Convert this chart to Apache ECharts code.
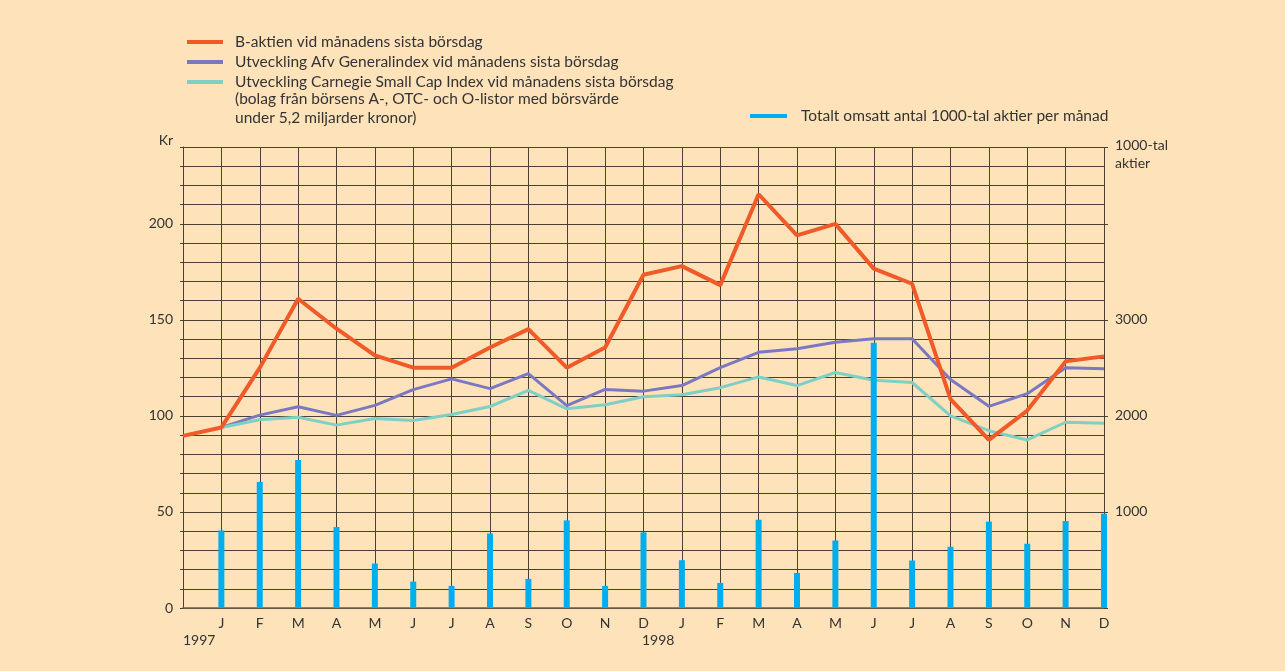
<!DOCTYPE html>
<html>
<head>
<meta charset="utf-8">
<script src="https://cdn.jsdelivr.net/npm/echarts@6/dist/echarts.min.js"></script>
<style>
  html, body { margin: 0; padding: 0; background: #fee3ba; }
  #chart { width: 1285px; height: 671px; }
</style>
</head>
<body>
<div id="chart"></div>
<script>
  // months Dec 1996 .. Dec 1998 (first slot has no label)
  var months = ['', 'J', 'F', 'M', 'A', 'M', 'J', 'J', 'A', 'S', 'O', 'N', 'D',
    'J', 'F', 'M', 'A', 'M', 'J', 'J', 'A', 'S', 'O', 'N', 'D']

  var bAktien = [89.6, 94, 125, 161, 145.4, 131.5, 125.1, 125.1, 135.6, 145.2, 125.1, 135.6, 173.5,
    178, 168.1, 215.4, 194, 200, 176.7, 168.8, 108.8, 87.5, 102.8, 128.4, 131]
  var generalindex = ['-', 94, 100.4, 104.8, 100.3, 105.5, 113.7, 119.3, 114.2, 122, 105.4, 113.8, 112.9,
    115.8, 125.1, 133.1, 135, 138.3, 140.2, 140.2, 119, 105, 111.6, 125.1, 124.6]
  var carnegie = ['-', 94, 98, 99.3, 95.2, 98.7, 97.6, 100.7, 104.9, 113.3, 103.7, 105.8, 110,
    111, 114.7, 120.3, 115.8, 122.6, 118.6, 117.4, 100, 92.3, 87.5, 96.7, 96.2]
  var omsatt = ['-', 808, 1313, 1540, 843, 463, 275, 230, 776, 303, 912, 230, 787,
    498, 261, 919, 365, 703, 2762, 494, 637, 899, 669, 905, 982]

  var leftLabels = [0, 50, 100, 150, 200]
  var rightLabels = [1000, 2000, 3000]

  var font = 'Lato'
  var ink = '#333'
  var gridColor = '#4a4036'
  var legendFont = '15.5px ' + font

  var chart = echarts.init(document.getElementById('chart'))

  chart.setOption({
    backgroundColor: '#fee3ba',
    animation: false,
    textStyle: { fontFamily: font },
    grid: { left: 183, right: 181, top: 147, bottom: 63 },
    legend: [
      {
        data: ['B-aktien vid månadens sista börsdag',
          'Utveckling Afv Generalindex vid månadens sista börsdag',
          'Utveckling Carnegie Small Cap Index vid månadens sista börsdag'],
        orient: 'vertical',
        left: 187,
        top: 34,
        padding: 0,
        icon: 'rect',
        itemWidth: 36,
        itemHeight: 4,
        itemGap: 4,
        textStyle: { color: ink, fontSize: 15.5, fontFamily: font, lineHeight: 15, padding: [0, 0, 0, 7] }
      },
      {
        data: ['Totalt omsatt antal 1000-tal aktier per månad'],
        left: 750,
        top: 108,
        padding: 0,
        icon: 'rect',
        itemWidth: 37,
        itemHeight: 4,
        textStyle: { color: ink, fontSize: 15.5, fontFamily: font, lineHeight: 15, padding: [0, 0, 0, 9] }
      }
    ],
    xAxis: {
      type: 'category',
      data: months,
      boundaryGap: false,
      axisLine: { lineStyle: { color: '#6b5d4f', width: 1.5 } },
      axisTick: { show: false },
      axisLabel: { color: ink, fontSize: 14, margin: 8, interval: 0 },
      splitLine: { show: true, lineStyle: { color: gridColor, width: 1 } }
    },
    yAxis: [
      {
        type: 'value',
        min: 0,
        max: 240,
        interval: 10,
        axisLine: { show: true, lineStyle: { color: gridColor } },
        axisTick: { show: true, length: 3, lineStyle: { color: gridColor } },
        axisLabel: {
          color: ink,
          fontSize: 14,
          margin: 10,
          formatter: function (v) { return leftLabels.indexOf(v) >= 0 ? v : '' }
        },
        splitLine: { show: true, lineStyle: { color: gridColor, width: 1 } }
      },
      {
        type: 'value',
        min: 0,
        max: 4800,
        interval: 1000,
        axisLine: { show: false },
        axisTick: { show: true, length: 4, lineStyle: { color: gridColor } },
        axisLabel: {
          color: ink,
          fontSize: 14,
          margin: 11,
          formatter: function (v) { return rightLabels.indexOf(v) >= 0 ? v : '' }
        },
        splitLine: { show: false }
      }
    ],
    series: [
      {
        name: 'B-aktien vid månadens sista börsdag',
        type: 'line',
        data: bAktien,
        symbol: 'none',
        color: '#f05a28',
        lineStyle: { width: 4, color: '#f05a28' },
        z: 4
      },
      {
        name: 'Utveckling Afv Generalindex vid månadens sista börsdag',
        type: 'line',
        data: generalindex,
        symbol: 'none',
        color: '#7b78c2',
        lineStyle: { width: 3, color: '#7b78c2' },
        z: 3
      },
      {
        name: 'Utveckling Carnegie Small Cap Index vid månadens sista börsdag',
        type: 'line',
        data: carnegie,
        symbol: 'none',
        color: '#7fcfc4',
        lineStyle: { width: 3, color: '#7fcfc4' },
        z: 3
      },
      {
        name: 'Totalt omsatt antal 1000-tal aktier per månad',
        type: 'bar',
        yAxisIndex: 1,
        data: omsatt,
        barWidth: 6,
        color: '#00aeef',
        itemStyle: { color: '#00aeef' },
        z: 5
      }
    ],
    graphic: [
      { type: 'text', left: 235, top: 91, style: { text: '(bolag från börsens A-, OTC- och O-listor med börsvärde', fill: ink, font: legendFont } },
      { type: 'text', left: 235, top: 110, style: { text: 'under 5,2 miljarder kronor)', fill: ink, font: legendFont } },
      { type: 'text', right: 1285 - 173, top: 133, style: { text: 'Kr', fill: ink, font: '14px ' + font } },
      { type: 'text', left: 1115, top: 136, style: { text: '1000-tal\naktier', fill: ink, font: '14px ' + font, lineHeight: 18 } },
      { type: 'text', left: 183, top: 633, style: { text: '1997', fill: ink, font: '14px ' + font } },
      { type: 'text', left: 642, top: 633, style: { text: '1998', fill: ink, font: '14px ' + font } }
    ]
  })
</script>
</body>
</html>
